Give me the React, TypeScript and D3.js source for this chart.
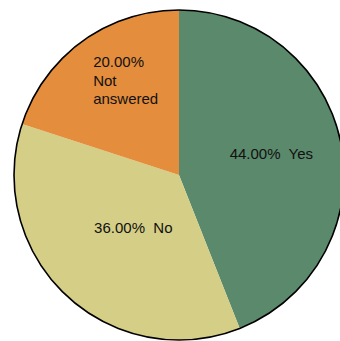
import React from "react";
import * as d3 from "d3";

const categories = ["Yes", "No", "Not answered"];
const values = [44, 36, 20];
const colors = ["#5b896b", "#d4ce86", "#e48d3c"];
const labelLines = [["44.00%  Yes"], ["36.00%  No"], ["20.00%", "Not", "answered"]];

const W = 340;
const H = 341;
const cx = 179;
const cy = 175;
const R = 165;
// label placement tweaks (angle offset in degrees, radius)
const labelPlace = [
  { da: -2.7, r: 95 },
  { da: -1.7, r: 69 },
  { da: 7, r: 109 },
];

export default function App() {
  const pie = d3.pie<number>().sort(null).value((d) => d);
  const arcs = pie(values);
  const arc = d3.arc<d3.PieArcDatum<number>>().innerRadius(0).outerRadius(R);
  return (
    <svg
      width={W}
      height={H}
      style={{ position: "absolute", left: 0, top: 0, background: "#fff" }}
      fontFamily="'Liberation Sans', Arial, sans-serif"
    >
      <g transform={`translate(${cx},${cy})`}>
        {arcs.map((a, i) => (
          <path key={categories[i]} d={arc(a) || ""} fill={colors[i]} />
        ))}
        <circle r={R} fill="none" stroke="#000" strokeWidth={1.6} />
        {arcs.map((a, i) => {
          const mid = (a.startAngle + a.endAngle) / 2 + (labelPlace[i].da * Math.PI) / 180;
          const x = labelPlace[i].r * Math.sin(mid);
          const y = -labelPlace[i].r * Math.cos(mid);
          const lines = labelLines[i];
          const lh = 18.5;
          const y0 = y - ((lines.length - 1) * lh) / 2;
          const isMulti = lines.length > 1;
          return (
            <text
              key={"t" + i}
              x={isMulti ? x - 33 : x}
              y={y0}
              fontSize={15}
              fill="#111"
              textAnchor={isMulti ? "start" : "middle"}
              dominantBaseline="central"
              style={{ whiteSpace: "pre" }}
            >
              {lines.map((l, j) => (
                <tspan key={j} x={isMulti ? x - 33 : x} dy={j === 0 ? 0 : lh}>
                  {l}
                </tspan>
              ))}
            </text>
          );
        })}
      </g>
    </svg>
  );
}
